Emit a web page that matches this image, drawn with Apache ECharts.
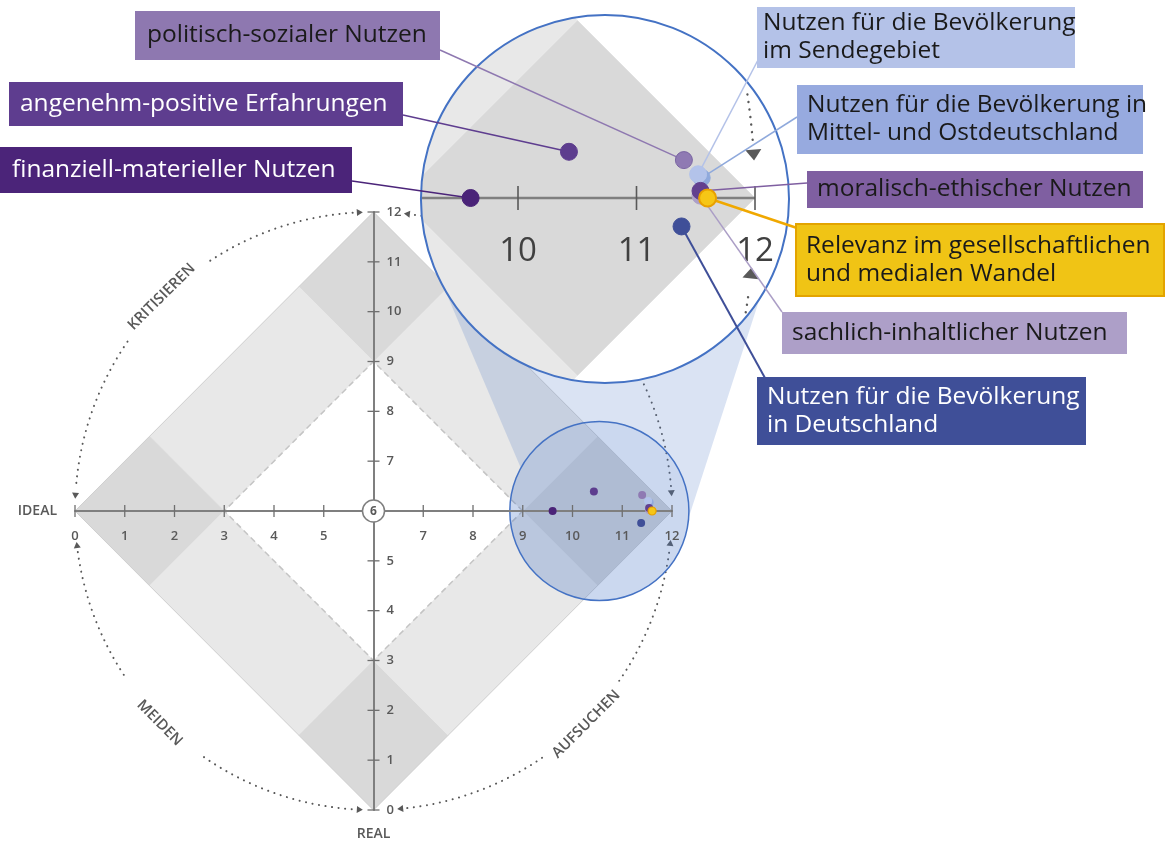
<!DOCTYPE html>
<html><head><meta charset="utf-8">
<script src="https://cdn.jsdelivr.net/npm/echarts@6/dist/echarts.min.js"></script>
<style>html,body{margin:0;padding:0;background:#fff}#c{width:1165px;height:848px}</style>
</head><body><div id="c"></div>
<script>
// ---------------- data ----------------
const tickValues = [0,1,2,3,4,5,6,7,8,9,10,11,12];
const zoomTicks = [10, 11, 12];
const names = [
  'sachlich-inhaltlicher Nutzen',
  'Nutzen für die Bevölkerung in\nMittel- und Ostdeutschland',
  'Nutzen für die Bevölkerung\nim Sendegebiet',
  'politisch-sozialer Nutzen',
  'angenehm-positive Erfahrungen',
  'finanziell-materieller Nutzen',
  'Nutzen für die Bevölkerung\nin Deutschland',
  'moralisch-ethischer Nutzen',
  'Relevanz im gesellschaftlichen\nund medialen Wandel'
];
const xValues = [11.54, 11.55, 11.52, 11.40, 10.43, 9.60, 11.38, 11.54, 11.60];
const yValues = [6.02, 6.17, 6.20, 6.32, 6.39, 6.00, 5.76, 6.06, 6.00];
const axisNames = ['IDEAL', 'REAL'];
const arcLabels = ['KRITISIEREN', 'MEIDEN', 'AUFSUCHEN'];

// ---------------- styles / layout ----------------
const pointColors  = ['#ad9fc8','#8fa9dc','#b3c3ea','#8f7ab3','#5d3d8e','#4a2378','#3f4f98','#62408f','#f6c616'];
const pointBorders = ['#ad9fc8','#8fa9dc','#b3c3ea','#7a65a3','#5d3d8e','#4a2378','#3f4f98','#62408f','#e8a000'];
const boxColors    = ['#ad9fc8','#97aadf','#b4c2e8','#8e78b0','#5e3d8f','#4b2479','#3f4f98','#7f5fa1','#f0c415'];
const textColors   = ['#1a1a1a','#1a1a1a','#1a1a1a','#1a1a1a','#ffffff','#ffffff','#ffffff','#1a1a1a','#1a1a1a'];
const lineColors   = ['#ab9ec6','#8fa9dc','#b4c2e8','#8e78b0','#5e3d8f','#4b2479','#3f4f98','#7f5fa1','#f0a800'];
const lineWidths   = [1.5,1.5,1.5,1.5,1.5,1.5,2,1.5,2.5];
const boxes = [[782,312,345,42],[797,85,346,69],[757,7,318,61],[135,11,305,49],[9,82,394,44],[0,147,352,46],[757,377,329,68],[807,171,336,37],[797,225,366,70]];
const anchors = [[782,312],[797,117],[758,60],[440,50],[403,115],[352,181],[765,378],[807,183],[797,228]];
const padL = [10,10,6,12,11,12,10,10,9];

const G0 = {left: 75, top: 212, width: 597, height: 598};
const ZS = 118.5, ZX0 = 9, ZX1 = 12, ZY0 = 4.4, ZY1 = 7.6;
const G1 = {left: 518 - ZS, top: 198 - (ZY1 - 6) * ZS, width: (ZX1 - ZX0) * ZS, height: (ZY1 - ZY0) * ZS};
const MAG = {cx: 10.734, cy: 5.992, r: 1.553};     // big lens (grid 1 units)
const LENS = {cx: 10.54, cy: 6.0, r: 1.80};        // small lens (grid 0 units)
const CONE = {bigFrom: 3.1, bigTo: 150.7, smallFrom: 208.7, smallTo: 364.4}; // screen angles (deg)
const CORNER_FILL = '#d9d9d9', BAND_FILL = '#e8e8e8';
const GRAY = '#595959';
const FONT = 'Open Sans';

// ---------------- helpers ----------------
function circlePoly(c, r, n) {
  const a = [];
  for (let i = 0; i < n; i++) { const t = 2 * Math.PI * i / n; a.push([c[0] + r * Math.cos(t), c[1] + r * Math.sin(t)]); }
  return a;
}
function arcPts(c, r, d0, d1, step) {
  const a = [];
  const n = Math.max(2, Math.ceil(Math.abs(d1 - d0) / step));
  for (let i = 0; i <= n; i++) { const t = (d0 + (d1 - d0) * i / n) * Math.PI / 180; a.push([c[0] + r * Math.cos(t), c[1] + r * Math.sin(t)]); }
  return a;
}
function clipPoly(subject, clip) {
  let area = 0;
  for (let i = 0; i < clip.length; i++) { const p = clip[i], q = clip[(i + 1) % clip.length]; area += p[0] * q[1] - q[0] * p[1]; }
  const sg = area > 0 ? 1 : -1;
  let out = subject;
  for (let i = 0; i < clip.length && out.length; i++) {
    const a = clip[i], b = clip[(i + 1) % clip.length];
    const cr = p => sg * ((b[0] - a[0]) * (p[1] - a[1]) - (b[1] - a[1]) * (p[0] - a[0]));
    const inp = out; out = [];
    for (let j = 0; j < inp.length; j++) {
      const cur = inp[j], prev = inp[(j + inp.length - 1) % inp.length];
      const dc = cr(cur), dp = cr(prev);
      const inter = () => { const t = dp / (dp - dc); return [prev[0] + t * (cur[0] - prev[0]), prev[1] + t * (cur[1] - prev[1])]; };
      if (dc >= 0) { if (dp < 0) out.push(inter()); out.push(cur); }
      else if (dp >= 0) out.push(inter());
    }
  }
  return out;
}
function diamondPieces() {
  const c = 6, dirs = [[1,0],[0,1],[-1,0],[0,-1]], out = [];
  for (let i = 0; i < 4; i++) {
    const d = dirs[i], p = dirs[(i + 1) % 4];
    out.push({fill: CORNER_FILL, pts: [
      [c + 6 * d[0], c + 6 * d[1]], [c + 4.5 * d[0] + 1.5 * p[0], c + 4.5 * d[1] + 1.5 * p[1]],
      [c + 3 * d[0], c + 3 * d[1]], [c + 4.5 * d[0] - 1.5 * p[0], c + 4.5 * d[1] - 1.5 * p[1]]]});
    out.push({fill: BAND_FILL, pts: [
      [c + 4.5 * d[0] + 1.5 * p[0], c + 4.5 * d[1] + 1.5 * p[1]], [c + 4.5 * p[0] + 1.5 * d[0], c + 4.5 * p[1] + 1.5 * d[1]],
      [c + 3 * p[0], c + 3 * p[1]], [c + 3 * d[0], c + 3 * d[1]]]});
  }
  return out;
}
function arcElements(api, segs, clipC, clipR, aLen, aHalf, dash, lw) {
  const els = [];
  const P = deg => { const t = deg * Math.PI / 180; return api.coord([6 + 6 * Math.cos(t), 6 + 6 * Math.sin(t)]); };
  const inside = p => !clipC || Math.hypot(p[0] - clipC[0], p[1] - clipC[1]) < clipR - 3;
  segs.forEach(s => {
    let run = [];
    const flush = () => { if (run.length > 1) els.push({type: 'polyline', shape: {points: run}, style: {stroke: GRAY, lineWidth: lw, lineDash: dash, lineCap: 'round', fill: null}}); run = []; };
    const a0 = s[0] + (s[2] ? 0.8 : 0), a1 = s[1] - (s[3] ? 0.8 : 0);
    for (let d = a0; d <= a1 + 1e-9; d += 0.25) { const p = P(Math.min(d, a1)); if (inside(p)) run.push(p); else flush(); }
    flush();
    [[s[0], -1, s[2]], [s[1], 1, s[3]]].forEach(([deg, dir, on]) => {
      if (!on) return;
      const base = P(deg); if (!inside(base)) return;
      const ah = P(deg + dir * 0.3);
      let vx = ah[0] - base[0], vy = ah[1] - base[1]; const L = Math.hypot(vx, vy); vx /= L; vy /= L;
      const tip = [base[0] + vx * aLen, base[1] + vy * aLen];
      els.push({type: 'polygon', shape: {points: [tip, [base[0] - vy * aHalf, base[1] + vx * aHalf], [base[0] + vy * aHalf, base[1] - vx * aHalf]]}, style: {fill: GRAY}});
    });
  });
  return els;
}
const mainSegs = [[4.0,83,true,true],[93.2,124,true,false],[145.5,176.5,false,true],[187.1,214,true,false],[235.4,266.8,false,true],[275.7,304.6,true,false],[325.4,353.3,false,true]];
const zoomSegs = [[3.9,40,true,false],[320,353.5,false,true]];
const arcLabelAngles = [134.75, 224.7, 315];

// ---------------- render functions ----------------
function renderDiamond(params, api) {
  const children = diamondPieces().map(pc => ({type: 'polygon', shape: {points: pc.pts.map(p => api.coord(p))}, style: {fill: pc.fill, stroke: pc.fill, lineWidth: 0.5}}));
  children.push({type: 'polygon', shape: {points: [[9,6],[6,9],[3,6],[6,3]].map(p => api.coord(p))}, style: {fill: null, stroke: '#c4c4c4', lineWidth: 1.5, lineDash: [6, 4]}});
  children.push({type: 'polygon', shape: {points: [[12,6],[6,12],[0,6],[6,0]].map(p => api.coord(p))}, style: {fill: null, stroke: '#d0d0d0', lineWidth: 1}});
  return {type: 'group', children};
}
function renderMainArcs(params, api) {
  const children = arcElements(api, mainSegs, null, 0, 6, 3.5, [0.1, 6.5], 2);
  arcLabels.forEach((t, i) => {
    const th = arcLabelAngles[i] * Math.PI / 180;
    const p = api.coord([6 + 6.05 * Math.cos(th), 6 + 6.05 * Math.sin(th)]);
    const rot = Math.sin(th) > 0 ? th - Math.PI / 2 : th + Math.PI / 2;
    children.push({type: 'text', x: p[0], y: p[1], rotation: rot, style: {text: t, fill: GRAY, fontSize: 15, fontWeight: 600, fontFamily: FONT, align: 'center', verticalAlign: 'middle'}});
  });
  return {type: 'group', children};
}
let bigPix = null;
function renderCone(params, api) {
  if (!bigPix) return {type: 'group', children: []};
  const c = api.coord([LENS.cx, LENS.cy]);
  const r = api.size([LENS.r, 0])[0];
  const pts = arcPts(bigPix.c, bigPix.r, CONE.bigFrom, CONE.bigTo, 2).concat(arcPts(c, r, CONE.smallFrom, CONE.smallTo, 2));
  return {type: 'group', children: [
    {type: 'polygon', shape: {points: pts}, style: {fill: 'rgba(68,114,196,0.2)'}},
    {type: 'circle', shape: {cx: c[0], cy: c[1], r: r}, style: {fill: 'rgba(68,114,196,0.28)', stroke: '#4472c4', lineWidth: 1.5}}
  ]};
}
function renderMainTicks(params, api) {
  const children = [];
  tickValues.forEach(v => {
    if (v === 6) return;
    const px = api.coord([v, 6]);
    children.push({type: 'line', shape: {x1: px[0], y1: px[1] - 6, x2: px[0], y2: px[1] + 6}, style: {stroke: '#6f6f6f', lineWidth: 1.3}});
    const py = api.coord([6, v]);
    children.push({type: 'line', shape: {x1: py[0] - 6, y1: py[1], x2: py[0] + 6, y2: py[1]}, style: {stroke: '#6f6f6f', lineWidth: 1.3}});
  });
  const c = api.coord([6, 6]);
  children.push({type: 'circle', shape: {cx: c[0], cy: c[1], r: 11}, style: {fill: '#fff', stroke: '#7f7f7f', lineWidth: 1.5}});
  children.push({type: 'text', x: c[0], y: c[1] + 0.5, style: {text: '6', fill: GRAY, fontSize: 12, fontWeight: 700, fontFamily: FONT, align: 'center', verticalAlign: 'middle'}});
  return {type: 'group', children};
}
function renderMagnifier(params, api) {
  const c = api.coord([MAG.cx, MAG.cy]);
  const R = api.size([MAG.r, 0])[0];
  const clip = circlePoly(c, R, 240);
  const children = [{type: 'circle', shape: {cx: c[0], cy: c[1], r: R}, style: {fill: '#ffffff'}}];
  diamondPieces().forEach(pc => {
    const poly = clipPoly(pc.pts.map(p => api.coord(p)), clip);
    if (poly.length > 2) children.push({type: 'polygon', shape: {points: poly}, style: {fill: pc.fill, stroke: pc.fill, lineWidth: 0.5}});
  });
  arcElements(api, zoomSegs, c, R, 11, 8, [0.1, 7.5], 2.4).forEach(e => children.push(e));
  const e12 = api.coord([12, 6]);
  const dy = e12[1] - c[1];
  const xl = c[0] - Math.sqrt(R * R - dy * dy);
  children.push({type: 'line', shape: {x1: xl, y1: e12[1], x2: e12[0], y2: e12[1]}, style: {stroke: '#7f7f7f', lineWidth: 2.5}});
  zoomTicks.forEach(v => {
    const p = api.coord([v, 6]);
    children.push({type: 'line', shape: {x1: p[0], y1: p[1] - 12, x2: p[0], y2: p[1] + 12}, style: {stroke: GRAY, lineWidth: 1.6}});
  });
  children.push({type: 'circle', shape: {cx: c[0], cy: c[1], r: R}, style: {fill: null, stroke: '#4472c4', lineWidth: 2}});
  return {type: 'group', children};
}
function renderLeader(params, api) {
  const i = params.dataIndex;
  const p = api.coord([api.value(0), api.value(1)]);
  const a = anchors[i];
  return {type: 'line', shape: {x1: a[0], y1: a[1], x2: p[0], y2: p[1]}, style: {stroke: lineColors[i], lineWidth: lineWidths[i]}};
}

// ---------------- option ----------------
const labelText = {color: GRAY, fontSize: 13, fontWeight: 600, fontFamily: FONT};
const zoomData = xValues.map((x, i) => {
  const lines = names[i].split('\n').length;
  const h = boxes[i][3], w = boxes[i][2];
  const pt = (h - lines * 28) / 2;
  return {
    value: [x, yValues[i]],
    itemStyle: {color: pointColors[i], borderColor: pointBorders[i], borderWidth: i === 8 ? 2 : 1, opacity: 1},
    label: {
      show: true, formatter: names[i], color: textColors[i], backgroundColor: boxColors[i],
      fontFamily: FONT, fontSize: 24.5, lineHeight: 28, opacity: 1,
      width: w - padL[i] - 4, padding: [pt, 4, h - lines * 28 - pt, padL[i]],
      borderColor: i === 8 ? '#e3a400' : 'transparent', borderWidth: i === 8 ? 2 : 0
    }
  };
});
const mainData = xValues.map((x, i) => ({value: [x, yValues[i]], itemStyle: {color: pointColors[i], borderColor: pointBorders[i], borderWidth: i === 8 ? 1.2 : 0, opacity: 1}}));
const hid = (g, min, max) => ({gridIndex: g, type: 'value', min: min, max: max, show: false});
const gridBase = {containLabel: false, outerBoundsMode: 'none'};

const option = {
  animation: false,
  backgroundColor: '#ffffff',
  grid: [
    Object.assign({left: G0.left, top: G0.top, width: G0.width, height: G0.height}, gridBase),               // 0 main plot
    Object.assign({left: G1.left, top: G1.top, width: G1.width, height: G1.height}, gridBase),               // 1 lens plot
    Object.assign({left: G0.left, top: G0.top, width: G0.width, height: G0.height / 2}, gridBase),           // 2 main x axis
    Object.assign({left: G0.left + G0.width / 2, top: G0.top, width: G0.width / 2, height: G0.height}, gridBase), // 3 main y axis
    Object.assign({left: G1.left, top: G1.top, width: G1.width, height: 198 - G1.top}, gridBase)             // 4 lens x axis
  ],
  xAxis: [
    hid(0, 0, 12),
    hid(1, ZX0, ZX1),
    {gridIndex: 2, type: 'value', position: 'bottom', min: 0, max: 12, interval: 1, z: 3,
     name: axisNames[0], nameLocation: 'start', nameGap: 18, nameTextStyle: {color: GRAY, fontSize: 14, fontWeight: 600, fontFamily: FONT, verticalAlign: 'middle'},
     axisLine: {show: true, onZero: false, lineStyle: {color: '#7f7f7f', width: 2}},
     axisTick: {show: false}, splitLine: {show: false},
     axisLabel: Object.assign({margin: 19, formatter: v => v === 6 ? '' : String(v)}, labelText)},
    hid(3, 6, 12),
    {gridIndex: 4, type: 'value', position: 'bottom', min: ZX0, max: ZX1, interval: 1, z: 7,
     axisLine: {show: false, onZero: false},
     axisTick: {show: false}, splitLine: {show: false},
     axisLabel: {margin: 37, color: '#404040', fontSize: 33, fontFamily: FONT, formatter: v => zoomTicks.indexOf(v) >= 0 ? String(v) : ''}}
  ],
  yAxis: [
    hid(0, 0, 12),
    hid(1, ZY0, ZY1),
    hid(2, 6, 12),
    {gridIndex: 3, type: 'value', position: 'left', min: 0, max: 12, interval: 1, z: 3,
     name: axisNames[1], nameLocation: 'start', nameGap: 17, nameTextStyle: {color: GRAY, fontSize: 14, fontWeight: 600, fontFamily: FONT},
     axisLine: {show: true, onZero: false, lineStyle: {color: '#7f7f7f', width: 2}},
     axisTick: {show: false}, splitLine: {show: false},
     axisLabel: Object.assign({inside: true, margin: 13, formatter: v => v === 6 ? '' : String(v)}, labelText)},
    hid(4, 6, 7.6)
  ],
  series: [
    {id: 'diamond', type: 'custom', xAxisIndex: 0, yAxisIndex: 0, z: 1, silent: true, clip: false, data: [[6, 6]], renderItem: renderDiamond},
    {id: 'arcs', type: 'custom', xAxisIndex: 0, yAxisIndex: 0, z: 1, silent: true, clip: false, data: [[6, 6]], renderItem: renderMainArcs},
    {id: 'cone', type: 'custom', xAxisIndex: 0, yAxisIndex: 0, z: 2, silent: true, clip: false, data: [], renderItem: renderCone},
    {id: 'ticks', type: 'custom', xAxisIndex: 0, yAxisIndex: 0, z: 4, silent: true, clip: false, data: [[6, 6]], renderItem: renderMainTicks},
    {id: 'mainPoints', type: 'scatter', xAxisIndex: 0, yAxisIndex: 0, z: 5, symbolSize: 8, silent: true, itemStyle: {opacity: 1}, data: mainData},
    {id: 'magnifier', type: 'custom', xAxisIndex: 1, yAxisIndex: 1, z: 6, silent: true, clip: false, data: [[10.5, 6]], renderItem: renderMagnifier},
    {id: 'leaders', type: 'custom', xAxisIndex: 1, yAxisIndex: 1, z: 8, silent: true, clip: false, data: xValues.map((x, i) => [x, yValues[i]]), renderItem: renderLeader},
    {id: 'zoomPoints', type: 'scatter', xAxisIndex: 1, yAxisIndex: 1, z: 9, symbolSize: 17, silent: true, clip: false, itemStyle: {opacity: 1}, data: zoomData,
     labelLayout: function (p) { const b = boxes[p.dataIndex]; return {x: b[0], y: b[1], align: 'left', verticalAlign: 'top'}; }}
  ]
};

const chart = echarts.init(document.getElementById('c'));
chart.setOption(option);
const c1 = chart.convertToPixel({gridIndex: 1}, [MAG.cx, MAG.cy]);
const e1 = chart.convertToPixel({gridIndex: 1}, [MAG.cx + MAG.r, MAG.cy]);
bigPix = {c: c1, r: e1[0] - c1[0]};
chart.setOption({series: [{id: 'cone', data: [[6, 6]]}]});
</script>
</body></html>
